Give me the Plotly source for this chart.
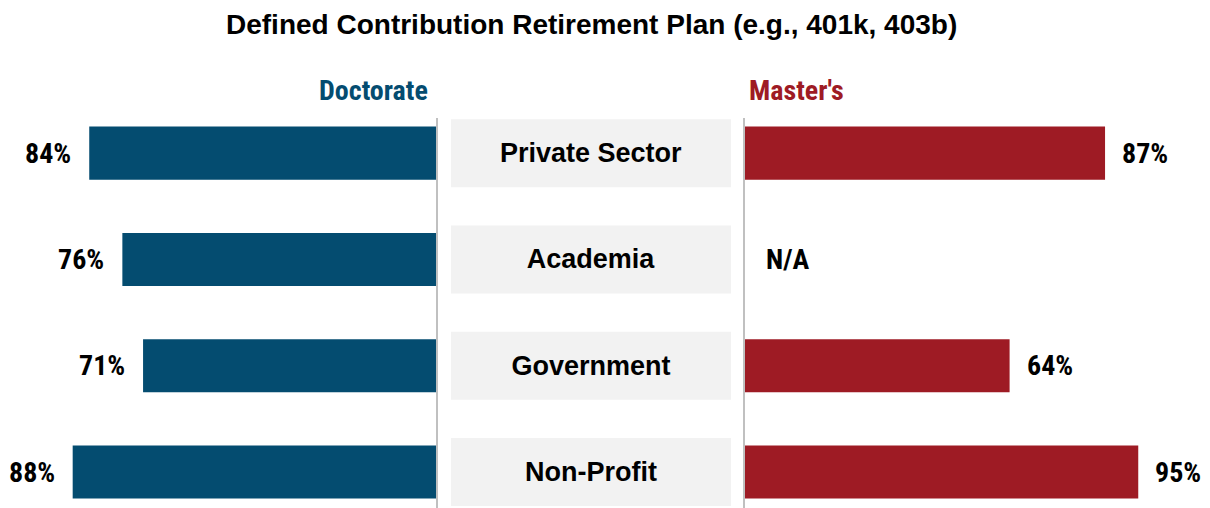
import plotly.graph_objects as go

categories = ["Private Sector", "Academia", "Government", "Non-Profit"]
doctorate = [84, 76, 71, 88]
masters = [87, None, 64, 95]
title = "Defined Contribution Retirement Plan (e.g., 401k, 403b)"
left_header = "Doctorate"
right_header = "Master's"

BLUE = "#044c70"
RED = "#9e1b24"
BOX = "#f2f2f2"
LINE = "#c0c0c0"
W, H = 1210, 508
NARROW = "Liberation Sans Narrow, Arial Narrow, Roboto Condensed, Liberation Sans, Arial, sans-serif"
BOLD = "Liberation Sans, Arial, sans-serif"

top_px = 100
plot_h = H - top_px


def py(p):
    # pixel row -> paper y (paper spans the plot area)
    return (H - p) / plot_h


ypos = list(range(len(categories)))

fig = go.Figure()

fig.add_trace(go.Bar(x=doctorate, y=ypos, orientation="h", width=0.5,
                     marker=dict(color=BLUE, line=dict(width=0)),
                     xaxis="x", yaxis="y", hoverinfo="skip"))
fig.add_trace(go.Bar(x=[1] * len(categories), y=ypos, orientation="h", width=0.64,
                     marker=dict(color=BOX, line=dict(width=0)),
                     text=categories, texttemplate="<b>%{text}</b>",
                     textposition="inside", insidetextanchor="middle",
                     textfont=dict(family=BOLD, size=27, color="#000000"),
                     xaxis="x2", yaxis="y", hoverinfo="skip"))
fig.add_trace(go.Bar(x=[m if m is not None else 0 for m in masters], y=ypos, orientation="h", width=0.5,
                     marker=dict(color=RED, line=dict(width=0)),
                     xaxis="x3", yaxis="y", hoverinfo="skip"))

annotations = []
for i, v in enumerate(doctorate):
    annotations.append(dict(x=v, y=i, xref="x", yref="y", text=f"<b>{v}%</b>",
                            xanchor="right", yanchor="middle", xshift=-16, showarrow=False,
                            font=dict(family=NARROW, size=28, color="#000000")))
for i, v in enumerate(masters):
    if v is None:
        annotations.append(dict(x=0, y=i, xref="x3", yref="y", text="<b>N/A</b>",
                                xanchor="left", yanchor="middle", xshift=20, showarrow=False,
                                font=dict(family=NARROW, size=28, color="#000000")))
    else:
        annotations.append(dict(x=v, y=i, xref="x3", yref="y", text=f"<b>{v}%</b>",
                                xanchor="left", yanchor="middle", xshift=15, showarrow=False,
                                font=dict(family=NARROW, size=28, color="#000000")))

annotations.append(dict(x=591 / W, y=py(24), xref="paper", yref="paper", text=f"<b>{title}</b>",
                        xanchor="center", yanchor="middle", showarrow=False,
                        font=dict(family=BOLD, size=28, color="#000000")))
annotations.append(dict(x=430 / W, y=py(90), xref="paper", yref="paper", text=f"<b>{left_header}</b>",
                        xanchor="right", yanchor="middle", showarrow=False,
                        font=dict(family=NARROW, size=28, color=BLUE)))
annotations.append(dict(x=747 / W, y=py(90), xref="paper", yref="paper", text=f"<b>{right_header}</b>",
                        xanchor="left", yanchor="middle", showarrow=False,
                        font=dict(family=NARROW, size=28, color=RED)))

shapes = [
    dict(type="line", xref="paper", yref="paper", x0=437 / W, x1=437 / W, y0=0, y1=py(118),
         line=dict(color=LINE, width=2)),
    dict(type="line", xref="paper", yref="paper", x0=744 / W, x1=744 / W, y0=0, y1=py(118),
         line=dict(color=LINE, width=2)),
]

band = 106.3
y_top = -0.5
y_bot = y_top + plot_h / band

fig.update_layout(
    width=W, height=H,
    margin=dict(l=0, r=0, t=top_px, b=0, pad=0),
    paper_bgcolor="white", plot_bgcolor="white",
    showlegend=False, barmode="overlay",
    xaxis=dict(domain=[0, 437 / W], range=[437 / 4.14, 0], visible=False, fixedrange=True),
    xaxis2=dict(domain=[451 / W, 731 / W], range=[0, 1], visible=False, fixedrange=True),
    xaxis3=dict(domain=[744 / W, 1], range=[0, (W - 744) / 4.15], visible=False, fixedrange=True),
    yaxis=dict(range=[y_bot, y_top], visible=False, fixedrange=True),
    annotations=annotations, shapes=shapes,
    uniformtext=dict(mode=False),
)

fig.write_html("out.html", config={"displayModeBar": False},
               post_script="document.body.style.margin='0';document.body.style.overflow='hidden';")
